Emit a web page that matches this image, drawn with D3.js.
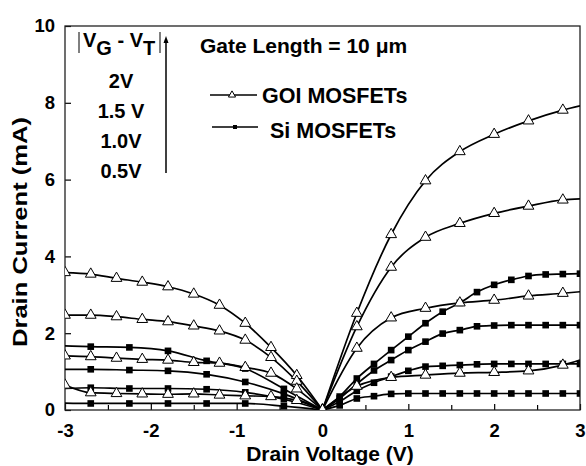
<!DOCTYPE html>
<html>
<head>
<meta charset="utf-8">
<script src="https://cdn.jsdelivr.net/npm/d3@7"></script>
<style>
  body { margin: 0; background: #fff; }
  svg text { font-family: "Liberation Sans", Arial, sans-serif; font-weight: bold; fill: #000; }
</style>
</head>
<body>
<script>
// drain voltage sample points for each device type
var goiV = [-3, -2.7, -2.4, -2.1, -1.8, -1.5, -1.2, -0.9, -0.6, -0.3, 0, 0.4, 0.8, 1.2, 1.6, 2.0, 2.4, 2.8, 3.0]
var goiMarkV = [-3, -2.7, -2.4, -2.1, -1.8, -1.5, -1.2, -0.9, -0.6, -0.3, 0, 0.4, 0.8, 1.2, 1.6, 2.0, 2.4, 2.8]
var siV = [-3, -2.7, -2.25, -1.8, -1.35, -0.9, -0.45, 0, 0.2, 0.4, 0.6, 0.8, 1.0, 1.2, 1.4, 1.6, 1.8, 2.0, 2.2, 2.4, 2.6, 2.8, 3.0]
var siMarkV = [-2.7, -2.25, -1.8, -1.35, -0.9, -0.45, 0, 0.2, 0.4, 0.6, 0.8, 1.0, 1.2, 1.4, 1.6, 1.8, 2.0, 2.2, 2.4, 2.6, 2.8, 3.0]

// drain current (mA), GOI MOSFETs, |VG-VT| = 2, 1.5, 1.0, 0.5 V
var goi20 = [3.58, 3.54, 3.43, 3.33, 3.21, 3.02, 2.73, 2.26, 1.63, 0.9, 0, 2.52, 4.57, 5.97, 6.73, 7.18, 7.53, 7.81, 7.92]
var goi15 = [2.47, 2.47, 2.43, 2.36, 2.30, 2.19, 2.06, 1.82, 1.37, 0.75, 0, 2.17, 3.72, 4.5, 4.86, 5.12, 5.31, 5.47, 5.5]
var goi10 = [1.41, 1.39, 1.35, 1.32, 1.30, 1.24, 1.22, 1.11, 0.96, 0.55, 0, 1.61, 2.40, 2.65, 2.79, 2.86, 2.97, 3.04, 3.08]
var goi05 = [0.65, 0.45, 0.43, 0.42, 0.41, 0.42, 0.39, 0.37, 0.35, 0.25, 0, 0.62, 0.85, 0.91, 0.96, 0.98, 1.02, 1.17, 1.3]

// drain current (mA), Si MOSFETs
var si20 = [1.67, 1.65, 1.63, 1.54, 1.28, 1.08, 0.55, 0, 0.35, 0.82, 1.2, 1.56, 1.91, 2.26, 2.56, 2.79, 3.07, 3.26, 3.39, 3.49, 3.53, 3.54, 3.55]
var si15 = [1.06, 1.06, 1.04, 1.02, 0.93, 0.73, 0.42, 0, 0.3, 0.68, 1.03, 1.3, 1.56, 1.78, 1.99, 2.08, 2.18, 2.2, 2.21, 2.21, 2.21, 2.21, 2.21]
var si10 = [0.56, 0.58, 0.56, 0.56, 0.54, 0.46, 0.28, 0, 0.22, 0.5, 0.71, 0.87, 1.02, 1.13, 1.15, 1.17, 1.19, 1.2, 1.2, 1.2, 1.2, 1.2, 1.2]
var si05 = [0.18, 0.17, 0.17, 0.17, 0.17, 0.17, 0.1, 0, 0.12, 0.3, 0.36, 0.42, 0.43, 0.43, 0.43, 0.43, 0.43, 0.43, 0.43, 0.43, 0.43, 0.43, 0.43]

var vgLabels = ["2V", "1.5 V", "1.0V", "0.5V"]
var xTicks = [-3, -2, -1, 0, 1, 2, 3]
var xMinor = [-2.5, -1.5, -0.5, 0.5, 1.5, 2.5]
var yTicks = [0, 2, 4, 6, 8, 10]

var screen = {width: 586, height: 466}
var margins = {top: 26, bottom: 56, left: 65, right: 6}
var width = screen.width - margins.left - margins.right
var height = screen.height - margins.top - margins.bottom

var xScale = d3.scaleLinear().domain([-3, 3]).range([0, width])
var yScale = d3.scaleLinear().domain([0, 10]).range([height, 0])

var svg = d3.select("body").append("svg")
    .attr("width", screen.width)
    .attr("height", screen.height)

svg.append("defs").append("clipPath").attr("id", "plotclip")
    .append("rect").attr("width", width).attr("height", height)

var plot = svg.append("g")
    .attr("transform", "translate(" + margins.left + "," + margins.top + ")")

// axes with inward ticks
plot.append("g")
    .attr("transform", "translate(0," + height + ")")
    .call(d3.axisBottom(xScale).tickValues(xTicks).tickSize(-6).tickPadding(14)
        .tickFormat(function(d) { return d < 0 ? "-" + Math.abs(d) : d }))
plot.append("g")
    .attr("transform", "translate(0," + height + ")")
    .call(d3.axisBottom(xScale).tickValues(xMinor).tickSize(-5).tickFormat(""))
plot.append("g")
    .call(d3.axisLeft(yScale).tickValues(yTicks).tickSize(-6).tickPadding(10))

plot.selectAll(".domain").remove()
plot.selectAll(".tick line").attr("stroke", "#000").attr("stroke-width", 1.2)
plot.selectAll(".tick text").style("font-size", "18.5px").attr("fill", "#000")

plot.append("rect")
    .attr("width", width).attr("height", height)
    .attr("fill", "none").attr("stroke", "#222").attr("stroke-width", 1.3)

var line = d3.line()
    .x(function(d) { return xScale(d.v) })
    .y(function(d) { return yScale(d.i) })
    .curve(d3.curveMonotoneX)

var makePts = function(vs, is) {
    return vs.map(function(v, k) { return {v: v, i: is[k]} })
}

// each curve is drawn as two branches so the kink at 0 V stays sharp
var drawSeries = function(vs, is, markV) {
    var pts = makePts(vs, is)
    var neg = pts.filter(function(d) { return d.v <= 0 })
    var pos = pts.filter(function(d) { return d.v >= 0 })
    var g = plot.append("g").attr("clip-path", "url(#plotclip)")
    ;[neg, pos].forEach(function(branch) {
        g.append("path")
            .attr("d", line(branch))
            .attr("fill", "none")
            .attr("stroke", "#000")
            .attr("stroke-width", 1.7)
    })
    return pts.filter(function(d) { return markV.indexOf(d.v) >= 0 })
}

var triSym = d3.symbol(d3.symbolTriangle, 50)
var sqSym = d3.symbol(d3.symbolSquare, 44)

var goiMarks = [], siMarks = []
;[si20, si15, si10, si05].forEach(function(s) {
    siMarks = siMarks.concat(drawSeries(siV, s, siMarkV))
})
;[goi20, goi15, goi10, goi05].forEach(function(s) {
    goiMarks = goiMarks.concat(drawSeries(goiV, s, goiMarkV))
})

var markG = plot.append("g").attr("clip-path", "url(#plotclip)")
markG.selectAll("path.sq").data(siMarks).enter().append("path")
    .attr("class", "sq")
    .attr("d", sqSym)
    .attr("transform", function(d) { return "translate(" + xScale(d.v) + "," + yScale(d.i) + ")" })
    .attr("fill", "#000")
markG.selectAll("path.tri").data(goiMarks).enter().append("path")
    .attr("class", "tri")
    .attr("d", triSym)
    .attr("transform", function(d) { return "translate(" + xScale(d.v) + "," + yScale(d.i) + ")" })
    .attr("fill", "#fff")
    .attr("stroke", "#000")
    .attr("stroke-width", 1)

// axis titles
svg.append("text")
    .attr("x", 330).attr("y", 461)
    .attr("text-anchor", "middle")
    .style("font-size", "21px")
    .text("Drain Voltage (V)")

svg.append("text")
    .attr("transform", "translate(27,232) rotate(-90)")
    .attr("text-anchor", "middle")
    .attr("textLength", 230)
    .attr("lengthAdjust", "spacingAndGlyphs")
    .style("font-size", "20px")
    .text("Drain Current (mA)")

// |VG - VT| label
var vg = svg.append("text").attr("x", 83).attr("y", 47).style("font-size", "20px")
vg.append("tspan").text("V")
vg.append("tspan").attr("dy", 8).text("G")
vg.append("tspan").attr("dy", -8).text(" - V")
vg.append("tspan").attr("dy", 8).text("T")
svg.append("line").attr("x1", 79).attr("x2", 79).attr("y1", 32).attr("y2", 53)
    .attr("stroke", "#000").attr("stroke-width", 1)
svg.append("line").attr("x1", 160).attr("x2", 160).attr("y1", 32).attr("y2", 53)
    .attr("stroke", "#000").attr("stroke-width", 1)

// arrow
svg.append("line").attr("x1", 166).attr("x2", 166).attr("y1", 40).attr("y2", 173)
    .attr("stroke", "#000").attr("stroke-width", 1.5)
svg.append("path").attr("d", "M166,36 L163.5,43 L168.5,43 Z").attr("fill", "#000")

svg.selectAll("text.vgl").data(vgLabels).enter().append("text")
    .attr("class", "vgl")
    .attr("x", 121)
    .attr("y", function(d, k) { return 87.5 + k * 30 })
    .attr("text-anchor", "middle")
    .style("font-size", "20px")
    .text(function(d) { return d })

svg.append("text").attr("x", 200).attr("y", 53)
    .style("font-size", "21px")
    .text("Gate Length = 10 \u03bcm")

// legend
svg.append("line").attr("x1", 210).attr("x2", 257).attr("y1", 95).attr("y2", 95)
    .attr("stroke", "#000").attr("stroke-width", 1.3)
svg.append("path").attr("d", d3.symbol(d3.symbolTriangle, 22))
    .attr("transform", "translate(232,95)")
    .attr("fill", "#fff").attr("stroke", "#000").attr("stroke-width", 1)
svg.append("text").attr("x", 262).attr("y", 103).style("font-size", "21.5px").text("GOI MOSFETs")

svg.append("line").attr("x1", 212).attr("x2", 258).attr("y1", 127).attr("y2", 127)
    .attr("stroke", "#000").attr("stroke-width", 1.3)
svg.append("path").attr("d", d3.symbol(d3.symbolSquare, 16))
    .attr("transform", "translate(235,127)")
    .attr("fill", "#000")
svg.append("text").attr("x", 270).attr("y", 138).style("font-size", "21.5px").text("Si MOSFETs")
</script>
</body>
</html>
